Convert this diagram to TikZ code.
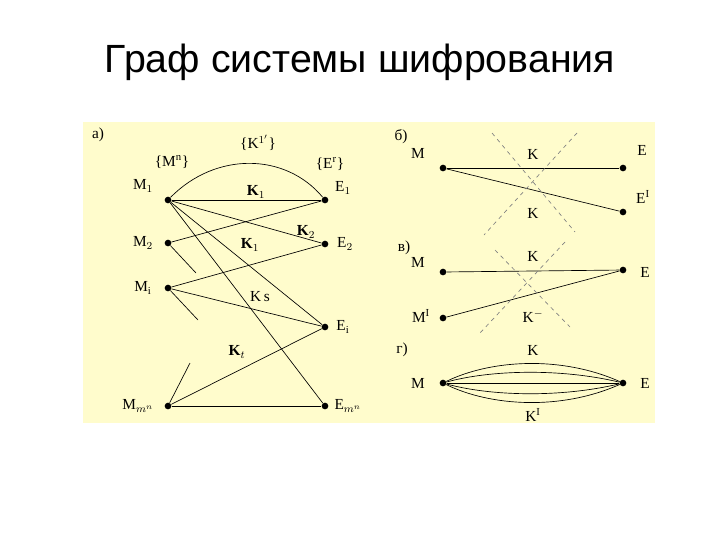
\documentclass[tikz,border=0pt]{standalone}
\usepackage{fontspec}
\setmainfont{Liberation Serif}
\newfontfamily\titlefont{Liberation Sans}
\begin{document}
\begin{tikzpicture}[x=0.75pt,y=-0.75pt,
  dot/.style={circle,fill=black,inner sep=0pt,minimum size=5pt},
  lbl/.style={font=\fontsize{11.5}{13}\selectfont,inner sep=0pt},
  ln/.style={line width=0.5pt},
  dsh/.style={line width=0.5pt,dashed,gray}]
\useasboundingbox (0,0) rectangle (720,540);
\fill[white] (0,0) rectangle (720,540);
\fill[yellow!20!white] (83,122) rectangle (655,423);
\node[font=\titlefont\fontsize{29.5}{34}\selectfont] (title) at (360,62) {Граф системы шифрования};
% panel a
\node[dot] (M1) at (168,200) {}; \node[dot] (E1) at (325,200) {};
\node[dot] (M2) at (168,243) {}; \node[dot] (E2) at (325,244) {};
\node[dot] (Mi) at (168,288) {}; \node[dot] (Ei) at (325,327) {};
\node[dot] (Mm) at (168,406) {}; \node[dot] (Em) at (325,406) {};
\coordinate (s1) at (196,273); \coordinate (s2) at (198,320); \coordinate (s3) at (190,363);
\draw[ln] (M1) -- (E1);
\draw[ln] (M1) .. controls (215,152) and (285,152) .. (E1);
\draw[ln] (M1) -- (E2); \draw[ln] (M2) -- (E1);
\draw[ln] (Mi) -- (E2); \draw[ln] (Mi) -- (Ei);
\draw[ln] (M1) -- (Ei); \draw[ln] (M1) -- (Em);
\draw[ln] (Mm) -- (Ei); \draw[ln] (Mm) -- (Em);
\draw[ln] (M2) -- (s1); \draw[ln] (Mi) -- (s2); \draw[ln] (Mm) -- (s3);
\node[lbl] (la) at (98,135) {а)};
\node[lbl] (lK) at (258,143) {\{K$^{1'}$\}};
\node[lbl] (lM) at (172,162) {\{M$^{\mathrm n}$\}};
\node[lbl] (lE) at (330,164) {\{E$^{\mathrm r}$\}};
\node[lbl] (lM1) at (143,186) {M$_1$};
\node[lbl] (lM2) at (143,243) {M$_2$};
\node[lbl] (lMi) at (143,288) {M$_{\mathrm i}$};
\node[lbl] (lMm) at (138,406) {M$_{m^n}$};
\node[lbl] (lE1) at (343,188) {E$_1$};
\node[lbl] (lE2) at (345,244) {E$_2$};
\node[lbl] (lEi) at (343,327) {E$_{\mathrm i}$};
\node[lbl] (lEm) at (348,406) {E$_{m^n}$};
\node[lbl] (k1) at (256,192) {\textbf{K}$_1$};
\node[lbl] (k2) at (306,232) {\textbf{K}$_2$};
\node[lbl] (k3) at (250,245) {\textbf{K}$_1$};
\node[lbl] (ks) at (260,297) {K\,s};
\node[lbl] (kt) at (237,352) {\textbf{K}$_t$};
% panel b
\node[dot] (bM) at (443,168) {}; \node[dot] (bE) at (623,168) {}; \node[dot] (bE2) at (623,212) {};
\draw[ln] (bM) -- (bE); \draw[ln] (bM) -- (bE2);
\coordinate (b1) at (492,133); \coordinate (b2) at (575,232);
\coordinate (b3) at (577,133); \coordinate (b4) at (484,235);
\draw[dsh] (b1) -- (b2); \draw[dsh] (b3) -- (b4);
\node[lbl] (lb) at (401,137) {б)};
\node[lbl] (bml) at (418,153) {M};
\node[lbl] (bk1) at (533,154) {K};
\node[lbl] (bk2) at (533,213) {K};
\node[lbl] (bel) at (642,150) {E};
\node[lbl] (bel2) at (643,197) {E$^{\mathrm I}$};
% panel v
\node[dot] (vM) at (443,272) {}; \node[dot] (vE) at (623,270) {}; \node[dot] (vM2) at (443,318) {};
\draw[ln] (vM) -- (vE); \draw[ln] (vM2) -- (vE);
\coordinate (v1) at (495,250); \coordinate (v2) at (570,327);
\coordinate (v3) at (565,242); \coordinate (v4) at (480,333);
\draw[dsh] (v1) -- (v2); \draw[dsh] (v3) -- (v4);
\node[lbl] (lv) at (404,248) {в)};
\node[lbl] (vml) at (418,262) {M};
\node[lbl] (vk1) at (533,256) {K};
\node[lbl] (vel) at (645,272) {E};
\node[lbl] (vml2) at (421,316) {M$^{\mathrm I}$};
\node[lbl] (vk2) at (533,316) {K$^{\mathrm{-}}$};
% panel g
\node[dot] (gM) at (443,383) {}; \node[dot] (gE) at (623,383) {};
\draw[ln] (gM) -- (gE);
\draw[ln] (gM) .. controls (490,360) and (560,355) .. (gE);
\draw[ln] (gM) .. controls (490,370) and (560,368) .. (gE);
\draw[ln] (gM) .. controls (490,396) and (560,398) .. (gE);
\draw[ln] (gM) .. controls (490,406) and (560,411) .. (gE);
\node[lbl] (lg) at (402,350) {г)};
\node[lbl] (gk1) at (533,350) {K};
\node[lbl] (gk2) at (533,415) {K$^{\mathrm I}$};
\node[lbl] (gml) at (418,383) {M};
\node[lbl] (gel) at (645,383) {E};
\end{tikzpicture}
\end{document}
